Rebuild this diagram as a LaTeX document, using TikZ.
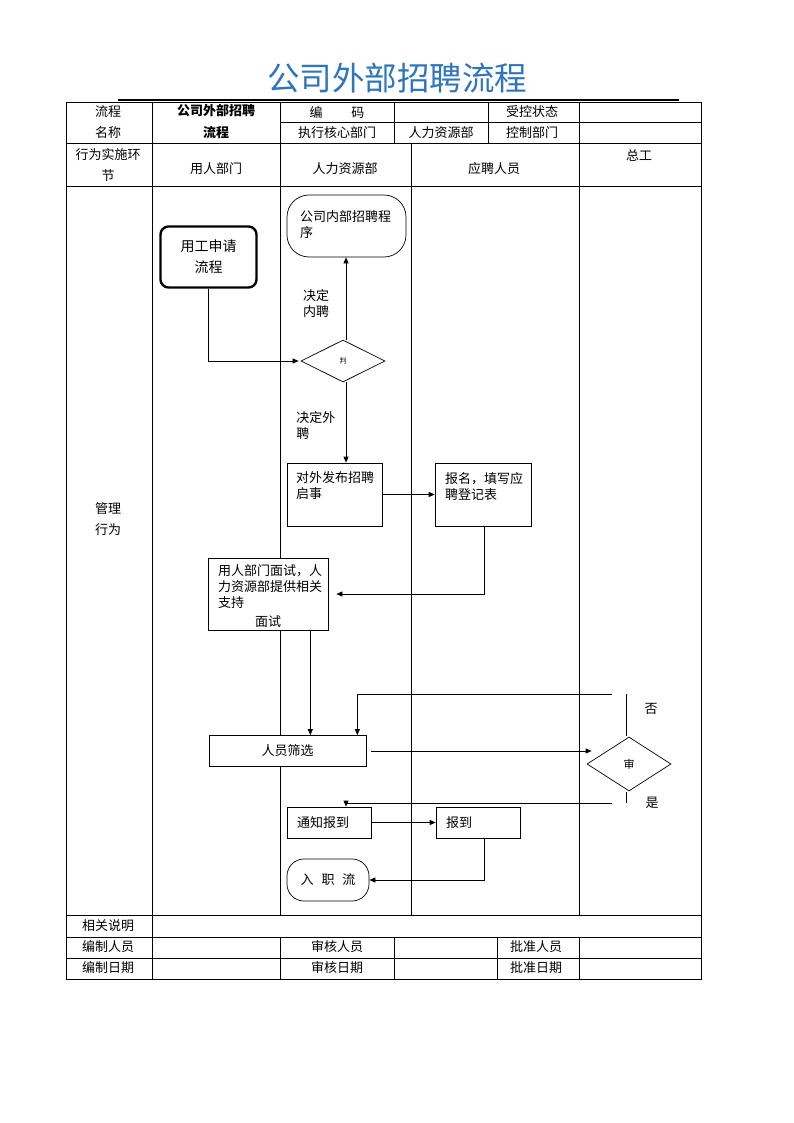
\documentclass[tikz,border=0pt]{standalone}
\usepackage{fontspec}
\setmainfont{Noto Sans CJK SC}
\usepackage{xcolor}
\usetikzlibrary{arrows.meta,shapes.geometric}
\definecolor{titelblau}{RGB}{46,117,189}
\tikzset{
	kasten/.style={draw, line width=0.7pt, inner sep=0pt},
	raute/.style={draw, diamond, aspect=2, inner sep=0pt},
	pfeil/.style={-{Triangle[length=6pt,width=5pt]}},
	lbl/.style={inner sep=0pt, align=center},
}

\begin{document}
\begin{tikzpicture}[x=1pt, y=-1pt, line width=0.7pt, font=\fontsize{13}{16}\selectfont]
	\useasboundingbox (0,0) rectangle (794,1123);
	% titel
	\node[lbl, text=titelblau, font=\fontsize{32.5}{35}\selectfont] (titel) at (397,78) {公司外部招聘流程};
	\draw[line width=2pt] (118,100) -- (679,100);
	% rahmen der tabelle
	\draw (66,102) rectangle (701,979);
	\draw (280,122) -- (701,122);
	\draw (66,143) -- (701,143);
	\draw (66,186) -- (701,186);
	\draw (66,915) -- (701,915);
	\draw (66,937) -- (701,937);
	\draw (66,958) -- (701,958);
	% spalten
	\draw (152,102) -- (152,979);
	\draw (280,102) -- (280,915);
	\draw (280,937) -- (280,979);
	\draw (394,102) -- (394,143);
	\draw (488,102) -- (488,143);
	\draw (579,102) -- (579,143);
	\draw (411,143) -- (411,915);
	\draw (579,143) -- (579,915);
	\draw (394,937) -- (394,979);
	\draw (497,937) -- (497,979);
	\draw (579,937) -- (579,979);
	% kopfzeilen
	\node[lbl] (kopfa) at (108,112) {流程};
	\node[lbl] (kopfb) at (108,133) {名称};
	\node[lbl, font=\fontsize{13}{16}\bfseries] (kopfc) at (216,111) {公司外部招聘};
	\node[lbl, font=\fontsize{13}{16}\bfseries] (kopfd) at (216,133) {流程};
	\node[lbl] (kopfe) at (337,112) {编\hspace{2.2em}码};
	\node[lbl] (kopff) at (532,112) {受控状态};
	\node[lbl] (kopfg) at (337,133) {执行核心部门};
	\node[lbl] (kopfh) at (441,133) {人力资源部};
	\node[lbl] (kopfi) at (532,133) {控制部门};
	\node[lbl] (kopfj) at (108,155) {行为实施环};
	\node[lbl] (kopfk) at (108,176) {节};
	\node[lbl] (kopfl) at (216,169) {用人部门};
	\node[lbl] (kopfm) at (345,169) {人力资源部};
	\node[lbl] (kopfn) at (494,169) {应聘人员};
	\node[lbl] (kopfo) at (639,155) {总工};
	\node[lbl] (verhalten) at (108,519) {管理\\[5pt]行为};
	% fusszeilen
	\node[lbl] (fussa) at (108,926) {相关说明};
	\node[lbl] (fussb) at (108,947) {编制人员};
	\node[lbl] (fussc) at (337,947) {审核人员};
	\node[lbl] (fussd) at (536,947) {批准人员};
	\node[lbl] (fusse) at (108,968) {编制日期};
	\node[lbl] (fussf) at (337,968) {审核日期};
	\node[lbl] (fussg) at (536,968) {批准日期};
	% kaesten im ablauf
	\node[kasten, line width=2.4pt, rounded corners=8pt, minimum width=96pt, minimum height=61pt, align=center, font=\fontsize{14}{21}\selectfont]
		(antrag) at (208.5,257) {用工申请\\流程};
	\node[kasten, rounded corners=22pt, minimum width=119pt, minimum height=62pt,
		label={[anchor=north west, inner sep=0pt, align=left, xshift=13pt, yshift=-16pt]north west:{公司内部招聘程\\序}}]
		(intern) at (346.5,226) {};
	\node[raute, minimum width=84pt, minimum height=42pt, font=\fontsize{7}{8}\selectfont] (entscheid) at (343,361) {判};
	\node[lbl, align=left] (txtintern) at (316,304) {决定\\内聘};
	\node[lbl, align=left, anchor=west] (txtextern) at (296,425) {决定外\\聘};
	\node[kasten, minimum width=95pt, minimum height=63pt,
		label={[anchor=north west, inner sep=0pt, align=left, xshift=9pt, yshift=-9pt]north west:{对外发布招聘\\启事}}]
		(extern) at (334.5,494.5) {};
	\node[kasten, minimum width=96pt, minimum height=63pt,
		label={[anchor=north west, inner sep=0pt, align=left, xshift=10pt, yshift=-9pt]north west:{报名，填写应\\聘登记表}}]
		(anmeldung) at (483,494.5) {};
	\node[kasten, fill=white, minimum width=120pt, minimum height=72pt,
		label={[anchor=north west, inner sep=0pt, align=left, xshift=10pt, yshift=-7pt]north west:{用人部门面试，人\\力资源部提供相关\\支持}},
		label={[anchor=south, inner sep=0pt, yshift=2pt]south:面试}]
		(gespraech) at (268,594) {};
	\node[kasten, fill=white, minimum width=157pt, minimum height=31pt] (auswahl) at (287.5,751) {人员筛选};
	\node[raute, minimum width=84pt, minimum height=54pt, font=\fontsize{11}{12}\selectfont] (pruef) at (629,764) {审};
	\node[lbl] (nein) at (651,709) {否};
	\node[lbl] (ja) at (652,803) {是};
	\node[kasten, minimum width=84pt, minimum height=31pt,
		label={[anchor=west, inner sep=0pt, xshift=10pt]west:通知报到}]
		(melden) at (329,822.5) {};
	\node[kasten, minimum width=84pt, minimum height=31pt,
		label={[anchor=west, inner sep=0pt, xshift=10pt]west:报到}]
		(antritt) at (478,822.5) {};
	\node[kasten, rounded corners=17pt, minimum width=82pt, minimum height=42pt] (eintritt) at (328,880) {入\hspace{0.6em}职\hspace{0.6em}流};
	% knickpunkte
	\coordinate (neinecke) at (612,694);
	\coordinate (jaecke) at (612,803);
	% verbindungen
	\draw[pfeil] (antrag.south) |- ([xshift=-2pt]entscheid.west);
	\draw[pfeil] ([xshift=3pt]entscheid.north) -- ([xshift=3pt]entscheid.north |- intern.south);
	\draw[pfeil] ([xshift=3pt]entscheid.south) -- ([xshift=3pt]entscheid.south |- extern.north);
	\draw[pfeil] (extern.east) -- (anmeldung.west);
	\draw[pfeil] ([xshift=1pt]anmeldung.south) |- ([xshift=8pt]gespraech.east);
	\draw[pfeil] ([xshift=-18pt]gespraech.south east) -- ([xshift=-18pt]gespraech.south east |- auswahl.north);
	\draw[pfeil] ([xshift=5pt]auswahl.east) -- ([xshift=5pt]auswahl.east -| pruef.west);
	\draw ([xshift=-3pt, yshift=1pt]pruef.north) -- ([xshift=-3pt]pruef.north |- neinecke);
	\draw[pfeil] (neinecke) -| ([xshift=-9pt]auswahl.north east);
	\draw ([xshift=-3pt, yshift=-1pt]pruef.south) -- ([xshift=-3pt]pruef.south |- jaecke);
	\draw[pfeil] (jaecke) -| ([xshift=17pt]melden.north);
	\draw[pfeil] (melden.east) -- (antritt.west);
	\draw[pfeil] ([xshift=6pt]antritt.south) |- (eintritt.east);
\end{tikzpicture}
\end{document}
